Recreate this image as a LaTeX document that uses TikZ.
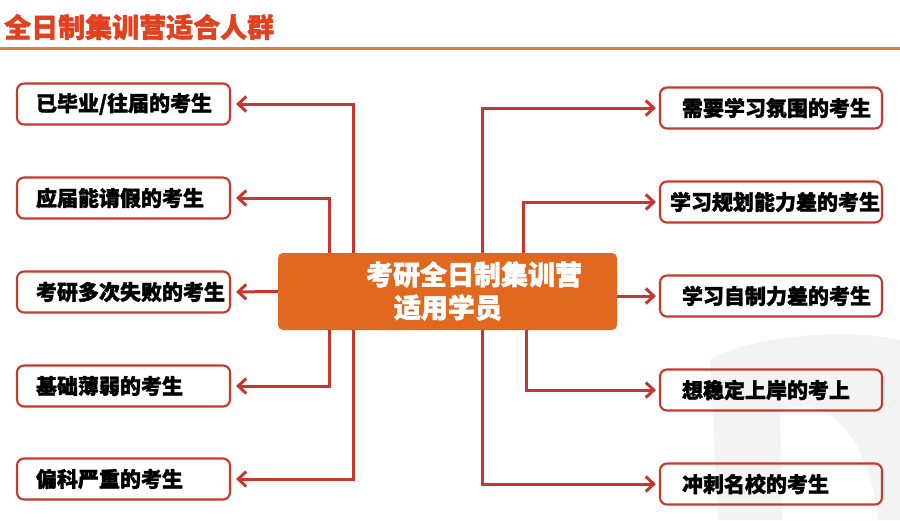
\documentclass[tikz,border=0pt]{standalone}
\usepackage{fontspec}
\setmainfont{Noto Sans CJK SC}[BoldFeatures={FakeBold=1.6}]
\usepackage{tikz}
\usetikzlibrary{arrows.meta,positioning}

\definecolor{titlered}{HTML}{E2411F}
\definecolor{ruleorange}{HTML}{E8783C}
\definecolor{boxred}{HTML}{C53A2C}
\definecolor{arrowred}{HTML}{C8372D}
\definecolor{coreorange}{HTML}{E0691F}
\definecolor{markgray}{HTML}{F3F3F3}

\begin{document}
\begin{tikzpicture}[
    x=1pt, y=-1pt,
    lbox/.style={rectangle, rounded corners=7pt, draw=boxred, line width=2.1pt,
        minimum width=213pt, minimum height=41pt, inner xsep=19pt,
        text width=175pt, align=left, font=\fontsize{21}{25}\selectfont\bfseries},
    rbox/.style={lbox, minimum width=222pt, inner xsep=22pt, text width=178pt},
    core/.style={rectangle, rounded corners=5pt, fill=coreorange,
        minimum width=339pt, minimum height=77pt},
    arrow/.style={-{Straight Barb[length=8pt,width=15pt]}, draw=arrowred,
        line width=3pt}
]
    \useasboundingbox (0,0) rectangle (900,520);

    % faint watermark
    \fill[markgray, even odd rule]
        (718,520) -- (710,360) .. controls (750,335) and (850,328) .. (900,340)
        -- (900,520) -- cycle
        (782,520) -- (780,410) .. controls (830,392) and (870,440) .. (878,520)
        -- cycle;

    % title
    \node[anchor=west, text=titlered, font=\fontsize{27}{31}\selectfont\bfseries,
        inner sep=0pt] (title) at (4,27) {全日制集训营适合人群};
    \draw[ruleorange, line width=3pt] (0,48) -- (900,48);

    % centre
    \node[core] (center) at (447.5,291.5) {};
    \node[align=left, text=white, font=\fontsize{27}{33}\selectfont\bfseries,
        inner sep=0pt] (ctext) at (474,291) {考研全日制集训营\\\hspace*{28pt}适用学员};

    % left column
    \node[lbox] (lb1) at (123.5,104) {已毕业/往届的考生};
    \node[lbox] (lb2) at (123.5,198) {应届能请假的考生};
    \node[lbox] (lb3) at (123.5,292) {考研多次失败的考生};
    \node[lbox] (lb4) at (123.5,386) {基础薄弱的考生};
    \node[lbox] (lb5) at (123.5,479) {偏科严重的考生};

    % right column
    \node[rbox] (rb1) at (771,108) {需要学习氛围的考生};
    \node[rbox, inner xsep=10pt, text width=202pt] (rb2) at (771,202) {学习规划能力差的考生};
    \node[rbox] (rb3) at (771,296) {学习自制力差的考生};
    \node[rbox] (rb4) at (771,390) {想稳定上岸的考上};
    \node[rbox] (rb5) at (771,484) {冲刺名校的考生};

    \draw[arrow, shorten >=5pt] ([xshift=76pt]center.north west) |- (lb1.east);
    \draw[arrow, shorten >=5pt] ([xshift=52pt]center.north west) |- (lb2.east);
    \draw[arrow, shorten >=5pt] (center.west) -- (lb3.east);
    \draw[arrow, shorten >=5pt] ([xshift=52pt]center.south west) |- (lb4.east);
    \draw[arrow, shorten >=5pt] ([xshift=76pt]center.south west) |- (lb5.east);

    \draw[arrow, shorten >=3pt] ([xshift=-135pt]center.north east) |- (rb1.west);
    \draw[arrow, shorten >=3pt] ([xshift=-94pt]center.north east) |- (rb2.west);
    \draw[arrow, shorten >=3pt] (center.east |- rb3.west) -- (rb3.west);
    \draw[arrow, shorten >=3pt] ([xshift=-91pt]center.south east) |- (rb4.west);
    \draw[arrow, shorten >=3pt] ([xshift=-135pt]center.south east) |- (rb5.west);
\end{tikzpicture}
\end{document}
